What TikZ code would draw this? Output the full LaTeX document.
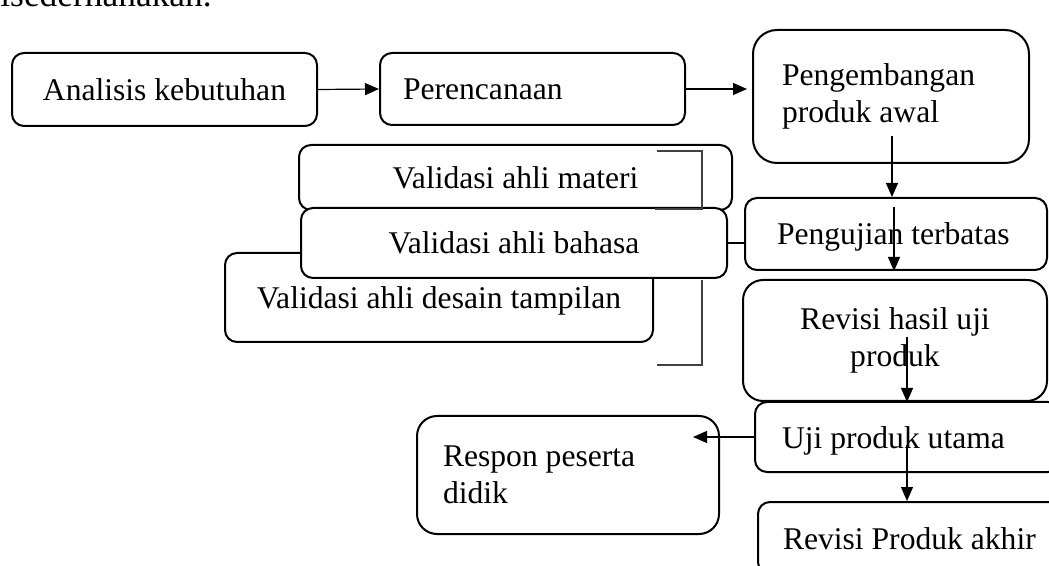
\documentclass[tikz,border=0pt]{standalone}
\usepackage{fontspec}
\setmainfont{Liberation Serif}
\usepackage{tikz}
\usetikzlibrary{arrows.meta,positioning,calc}

\begin{document}
\begin{tikzpicture}[x=0.5pt,y=-0.5pt,
  stage/.style={draw,line width=1pt,rounded corners=6pt,fill=white,inner sep=0pt,
    font=\fontsize{15.8}{18.5}\selectfont},
  oneline/.style={text height=12.6pt,text depth=1.6pt},
  flow/.style={-{Triangle[length=7pt,width=6pt]},line width=0.6pt},
  bracket/.style={draw=black!75,line width=0.6pt}]
  \useasboundingbox (0,0) rectangle (1049,566);
  \clip (0,0) rectangle (1049,566);
  % Text above
  \node[anchor=base west,inner sep=0pt,font=\fontsize{17.7}{21}\selectfont] (intro) at (0,7) {isederhanakan.};
  % Top row
  \node[stage,oneline,minimum width=152.5pt,minimum height=36.5pt] (kebutuhan) at (164.5,89.5) {Analisis kebutuhan};
  \node[stage,oneline,text width=129.5pt,inner xsep=11.5pt,align=flush left,minimum height=36pt] (perencanaan) at (532.5,89) {Perencanaan};
  \node[stage,rounded corners=12pt,text width=109pt,inner xsep=14.5pt,align=flush left,minimum height=66.5pt] (pengembangan) at (891,96.5) {Pengembangan\\produk awal};
  \draw[flow] (kebutuhan.east) -- (perencanaan.west);
  \draw[flow,shorten >=2.5pt] (perencanaan.east) -- (perencanaan.east -| pengembangan.west);
  % Validation boxes
  \node[stage,oneline,minimum width=216.5pt,minimum height=32.5pt] (materi) at (515.5,177.5) {Validasi ahli materi};
  \node[stage,oneline,minimum width=214pt,minimum height=44.5pt] (desain) at (439,297.5) {Validasi ahli desain tampilan};
  \node[stage,oneline,minimum width=213pt,minimum height=35pt] (bahasa) at (514,243) {Validasi ahli bahasa};
  \draw[bracket] (657,151) -- (702,151) -- (702,209) -- (655,209);
  \draw[bracket] (702,280) -- (702,365) -- (657,365);
  % Right column
  \node[stage,oneline,text width=119pt,inner xsep=16pt,align=flush left,minimum height=36pt] (pengujian) at (896,234) {Pengujian terbatas};
  \node[stage,rounded corners=10pt,minimum width=152pt,minimum height=60.5pt,align=center] (revisihasil) at (895,340.5) {Revisi hasil uji\\produk};
  \node[stage,oneline,text width=125.5pt,inner xsep=13.5pt,align=flush left,minimum height=35pt] (uji) at (907.5,437) {Uji produk utama};
  \node[stage,oneline,text width=131pt,inner xsep=12.5pt,align=flush left,minimum height=36pt] (akhir) at (914,538) {Revisi Produk akhir};
  \node[stage,rounded corners=10pt,text width=125pt,inner xsep=13pt,align=flush left,minimum height=59pt] (respon) at (568,475) {Respon peserta\\didik};
  \draw[line width=0.6pt] (bahasa.east) -- (bahasa.east -| pengujian.west);
  % Arrows down
  \coordinate (p3) at (892,136);
  \coordinate (p4) at (894,207);
  \coordinate (p5) at (907,337);
  \coordinate (p7) at (907,445);
  \coordinate (r6) at (693,437);
  \draw[flow] (p3) -- (p3 |- pengujian.north);
  \draw[flow] (p4) -- (p4 |- pengujian.south);
  \draw[flow] (p5) -- (p5 |- revisihasil.south);
  \draw[flow] (uji.west) -- (r6);
  \draw[flow] (p7) -- (p7 |- akhir.north);
\end{tikzpicture}
\end{document}
